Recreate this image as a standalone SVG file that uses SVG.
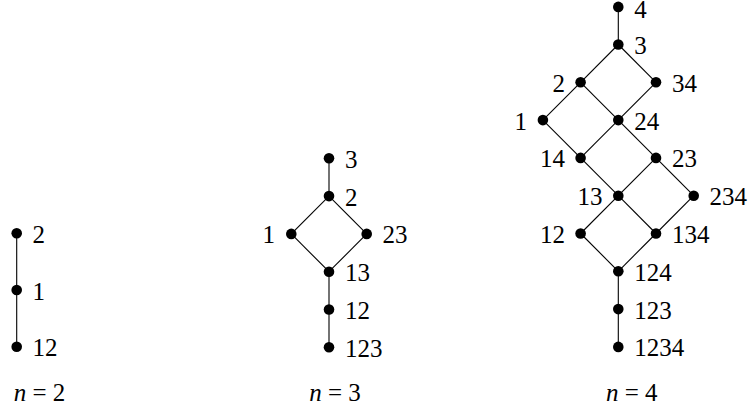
<svg xmlns="http://www.w3.org/2000/svg" width="750" height="412" viewBox="0 0 750 412">
<style>
  .e { stroke: #000; stroke-width: 1.1; fill: none; }
  .d { fill: #000; }
  text { font-family: "Liberation Serif", "DejaVu Serif", serif; font-size: 25px; fill: #000; }
  .l { text-anchor: end; }
  .cap { text-anchor: middle; }
  .it { font-style: italic; }
</style>
<rect width="750" height="412" fill="#fff"/>
<g id="connectors">
  <line class="e" x1="16.7" y1="233.3" x2="16.7" y2="290"/>
  <line class="e" x1="16.7" y1="290" x2="16.7" y2="346.7"/>
  <line class="e" x1="329" y1="158.3" x2="329" y2="196.1"/>
  <line class="e" x1="329" y1="196.1" x2="291.3" y2="233.9"/>
  <line class="e" x1="329" y1="196.1" x2="366.7" y2="233.9"/>
  <line class="e" x1="291.3" y1="233.9" x2="329" y2="271.7"/>
  <line class="e" x1="366.7" y1="233.9" x2="329" y2="271.7"/>
  <line class="e" x1="329" y1="271.7" x2="329" y2="309.5"/>
  <line class="e" x1="329" y1="309.5" x2="329" y2="347.3"/>
  <line class="e" x1="618.3" y1="6.9" x2="618.3" y2="44.5"/>
  <line class="e" x1="618.3" y1="44.5" x2="580.6" y2="82.3"/>
  <line class="e" x1="618.3" y1="44.5" x2="656" y2="82.3"/>
  <line class="e" x1="580.6" y1="82.3" x2="542.9" y2="120.1"/>
  <line class="e" x1="580.6" y1="82.3" x2="618.3" y2="120.1"/>
  <line class="e" x1="656" y1="82.3" x2="618.3" y2="120.1"/>
  <line class="e" x1="542.9" y1="120.1" x2="580.6" y2="157.9"/>
  <line class="e" x1="618.3" y1="120.1" x2="580.6" y2="157.9"/>
  <line class="e" x1="618.3" y1="120.1" x2="656" y2="157.9"/>
  <line class="e" x1="580.6" y1="157.9" x2="618.3" y2="195.7"/>
  <line class="e" x1="656" y1="157.9" x2="618.3" y2="195.7"/>
  <line class="e" x1="656" y1="157.9" x2="693.7" y2="195.7"/>
  <line class="e" x1="618.3" y1="195.7" x2="580.6" y2="233.5"/>
  <line class="e" x1="618.3" y1="195.7" x2="656" y2="233.5"/>
  <line class="e" x1="693.7" y1="195.7" x2="656" y2="233.5"/>
  <line class="e" x1="580.6" y1="233.5" x2="618.3" y2="271.3"/>
  <line class="e" x1="656" y1="233.5" x2="618.3" y2="271.3"/>
  <line class="e" x1="618.3" y1="271.3" x2="618.3" y2="309.1"/>
  <line class="e" x1="618.3" y1="309.1" x2="618.3" y2="346.9"/>
</g>
<g id="n2-2"><circle class="d" cx="16.7" cy="233.3" r="5.3"/><text x="32.5" y="242.8">2</text></g>
<g id="n2-1"><circle class="d" cx="16.7" cy="290" r="5.3"/><text x="32.5" y="299.5">1</text></g>
<g id="n2-12"><circle class="d" cx="16.7" cy="346.7" r="5.3"/><text x="32.5" y="356.2">12</text></g>
<g id="n3-3"><circle class="d" cx="329" cy="158.3" r="5.3"/><text x="345" y="167.8">3</text></g>
<g id="n3-2"><circle class="d" cx="329" cy="196.1" r="5.3"/><text x="345" y="205.6">2</text></g>
<g id="n3-1"><circle class="d" cx="291.3" cy="233.9" r="5.3"/><text class="l" x="275" y="243.4">1</text></g>
<g id="n3-23"><circle class="d" cx="366.7" cy="233.9" r="5.3"/><text x="382.5" y="243.4">23</text></g>
<g id="n3-13"><circle class="d" cx="329" cy="271.7" r="5.3"/><text x="345" y="281.2">13</text></g>
<g id="n3-12"><circle class="d" cx="329" cy="309.5" r="5.3"/><text x="345" y="319">12</text></g>
<g id="n3-123"><circle class="d" cx="329" cy="347.3" r="5.3"/><text x="345" y="356.8">123</text></g>
<g id="n4-4"><circle class="d" cx="618.3" cy="6.9" r="5.3"/><text x="634.3" y="17.5">4</text></g>
<g id="n4-3"><circle class="d" cx="618.3" cy="44.5" r="5.3"/><text x="634.3" y="54">3</text></g>
<g id="n4-2"><circle class="d" cx="580.6" cy="82.3" r="5.3"/><text class="l" x="565" y="91.8">2</text></g>
<g id="n4-34"><circle class="d" cx="656" cy="82.3" r="5.3"/><text x="672" y="91.8">34</text></g>
<g id="n4-1"><circle class="d" cx="542.9" cy="120.1" r="5.3"/><text class="l" x="527" y="129.6">1</text></g>
<g id="n4-24"><circle class="d" cx="618.3" cy="120.1" r="5.3"/><text x="634.3" y="129.6">24</text></g>
<g id="n4-14"><circle class="d" cx="580.6" cy="157.9" r="5.3"/><text class="l" x="565" y="167.4">14</text></g>
<g id="n4-23"><circle class="d" cx="656" cy="157.9" r="5.3"/><text x="672" y="167.4">23</text></g>
<g id="n4-13"><circle class="d" cx="618.3" cy="195.7" r="5.3"/><text class="l" x="602.5" y="205.2">13</text></g>
<g id="n4-234"><circle class="d" cx="693.7" cy="195.7" r="5.3"/><text x="709.5" y="205.2">234</text></g>
<g id="n4-12"><circle class="d" cx="580.6" cy="233.5" r="5.3"/><text class="l" x="565" y="243">12</text></g>
<g id="n4-134"><circle class="d" cx="656" cy="233.5" r="5.3"/><text x="672" y="243">134</text></g>
<g id="n4-124"><circle class="d" cx="618.3" cy="271.3" r="5.3"/><text x="634.3" y="280.8">124</text></g>
<g id="n4-123"><circle class="d" cx="618.3" cy="309.1" r="5.3"/><text x="634.3" y="318.6">123</text></g>
<g id="n4-1234"><circle class="d" cx="618.3" cy="346.9" r="5.3"/><text x="634.3" y="356.4">1234</text></g>
<g id="captions">
  <text class="cap" x="39.5" y="400.7"><tspan class="it">n</tspan> = 2</text>
  <text class="cap" x="335" y="400.7"><tspan class="it">n</tspan> = 3</text>
  <text class="cap" x="631.7" y="400.7"><tspan class="it">n</tspan> = 4</text>
</g>
</svg>
